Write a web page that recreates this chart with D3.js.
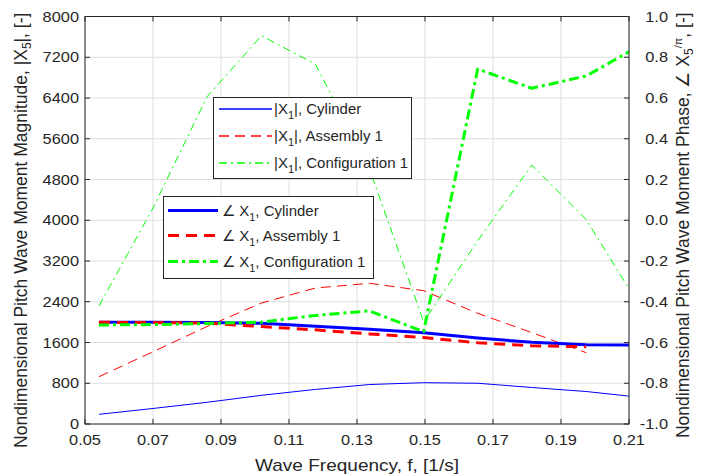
<!DOCTYPE html>
<html><head><meta charset="utf-8">
<script src="https://cdn.jsdelivr.net/npm/d3@7/dist/d3.min.js"></script>
<style>body{margin:0;background:#fff}svg{display:block}text{font-family:"Liberation Sans",Arial,sans-serif;fill:#262626}</style>
</head><body><svg id="c" width="703" height="476"></svg>
<script>
const freq   = [0.0541, 0.0700, 0.0859, 0.1019, 0.1178, 0.1337, 0.1496, 0.1655, 0.1814, 0.1974, 0.2133];
const magCyl = [190, 305, 426, 563, 679, 775, 811, 800, 717, 638, 524];
const magAsm = [928, 1419, 1914, 2375, 2670, 2762, 2617, 2173, 1795, 1400];
const magCfg = [2316, 4240, 6425, 7623, 7061, 5000, 2008, 3598, 5084, 4014, 2300];
const phCyl  = [-0.501, -0.501, -0.502, -0.506, -0.520, -0.535, -0.552, -0.578, -0.599, -0.611, -0.612];
const phAsm  = [-0.501, -0.502, -0.505, -0.522, -0.538, -0.558, -0.576, -0.601, -0.616, -0.621];
const phCfg  = [-0.514, -0.512, -0.507, -0.500, -0.467, -0.445, -0.547, 0.742, 0.648, 0.708, 0.858];
const xTicks = [0.05, 0.07, 0.09, 0.11, 0.13, 0.15, 0.17, 0.19, 0.21];
const yLTicks = [0, 800, 1600, 2400, 3200, 4000, 4800, 5600, 6400, 7200, 8000];
const yRTicks = [-1.0, -0.8, -0.6, -0.4, -0.2, 0.0, 0.2, 0.4, 0.6, 0.8, 1.0];

const L = 85, R = 629, T = 16.5, B = 424;
const svg = d3.select("#c");
const x = d3.scaleLinear().domain([0.05, 0.21]).range([L, R]);
const yL = d3.scaleLinear().domain([0, 8000]).range([B, T]);
const yR = d3.scaleLinear().domain([-1, 1]).range([B, T]);
const axc = "#262626";
const SX = 1.17;

// grid
const g = svg.append("g");
g.selectAll(".gx").data(xTicks).join("line").attr("x1", d => x(d)).attr("x2", d => x(d))
  .attr("y1", T).attr("y2", B).attr("stroke", "#dedede").attr("stroke-width", 1);
g.selectAll(".gy").data(yLTicks).join("line").attr("y1", d => yL(d)).attr("y2", d => yL(d))
  .attr("x1", L).attr("x2", R).attr("stroke", "#dedede").attr("stroke-width", 1);

svg.append("defs").append("clipPath").attr("id", "clip").append("rect")
  .attr("x", L).attr("y", T).attr("width", R - L).attr("height", B - T);
const plot = svg.append("g").attr("clip-path", "url(#clip)");

function draw(vals, yS, color, w, dash) {
  const line = d3.line().x((d, i) => x(freq[i])).y(d => yS(d));
  plot.append("path").datum(vals).attr("d", line).attr("fill", "none")
    .style("stroke", color).attr("stroke-width", w).attr("stroke-dasharray", dash)
    .attr("stroke-linejoin", "round");
}
const series = [
  {v: magCyl, s: yL, c: "#0000ff", w: 1, d: null, lab: "Cylinder", ph: false},
  {v: magAsm, s: yL, c: "#ff0000", w: 1, d: "10,6", lab: "Assembly 1", ph: false},
  {v: magCfg, s: yL, c: "#00ff00", w: 1, d: "8,4,2,4", lab: "Configuration 1", ph: false},
  {v: phCyl, s: yR, c: "#0000ff", w: 3, d: null, lab: "Cylinder", ph: true},
  {v: phAsm, s: yR, c: "#ff0000", w: 3, d: "11,7", lab: "Assembly 1", ph: true},
  {v: phCfg, s: yR, c: "#00ff00", w: 3, d: "10,4,3,4", lab: "Configuration 1", ph: true}
];
series.forEach(s => draw(s.v, s.s, s.c, s.w, s.d));

// axes box
const ax = svg.append("g");
ax.append("rect").attr("x", L).attr("y", T).attr("width", R - L).attr("height", B - T)
  .attr("fill", "none").attr("stroke", axc).attr("stroke-width", 1);
const tl = 5;
ax.selectAll(".tx").data(xTicks).join("line").attr("x1", d => x(d)).attr("x2", d => x(d))
  .attr("y1", B).attr("y2", B - tl).attr("stroke", axc);
ax.selectAll(".txt").data(xTicks).join("line").attr("x1", d => x(d)).attr("x2", d => x(d))
  .attr("y1", T).attr("y2", T + tl).attr("stroke", axc);
ax.selectAll(".tyl").data(yLTicks).join("line").attr("y1", d => yL(d)).attr("y2", d => yL(d))
  .attr("x1", L).attr("x2", L + tl).attr("stroke", axc);
ax.selectAll(".tyr").data(yRTicks).join("line").attr("y1", d => yR(d)).attr("y2", d => yR(d))
  .attr("x1", R).attr("x2", R - tl).attr("stroke", axc);

const fs = 14;
ax.selectAll(".lx").data(xTicks).join("text")
  .attr("transform", d => `translate(${x(d)},${B + 21}) scale(${SX},1)`)
  .attr("text-anchor", "middle").attr("font-size", fs).text(d => d.toFixed(2));
ax.selectAll(".lyl").data(yLTicks).join("text")
  .attr("transform", d => `translate(${L - 6},${yL(d) + 5}) scale(${SX},1)`)
  .attr("text-anchor", "end").attr("font-size", fs).text(d => d);
ax.selectAll(".lyr").data(yRTicks).join("text")
  .attr("transform", d => `translate(668,${yR(d) + 5}) scale(${SX},1)`)
  .attr("text-anchor", "end").attr("font-size", fs).text(d => d.toFixed(1));

// axis titles
const tfs = 17.5;
svg.append("text").attr("transform", `translate(${(L + R) / 2},471) scale(1.12,1)`)
  .attr("text-anchor", "middle").attr("font-size", 17).text("Wave Frequency, f, [1/s]");
const tL = svg.append("text").attr("transform", `translate(27,${(T + B) / 2 + 10}) rotate(-90)`)
  .attr("text-anchor", "middle").attr("font-size", tfs);
tL.append("tspan").text("Nondimensional Pitch Wave Moment Magnitude, |X");
tL.append("tspan").attr("font-size", 12).attr("dy", 4).text("5");
tL.append("tspan").attr("dy", -4).text("|, [-]");
const tR = svg.append("text").attr("transform", `translate(689,${(T + B) / 2 + 5}) rotate(-90)`)
  .attr("text-anchor", "middle").attr("font-size", tfs);
tR.append("tspan").text("Nondimensional Pitch Wave Moment Phase,  \u2220 X");
tR.append("tspan").attr("font-size", 12).attr("dy", 4).text("5");
tR.append("tspan").attr("font-size", 11).attr("dy", -11).text("/\u03c0");
tR.append("tspan").attr("dy", 7).text(", [-]");

// legends
function legend(x0, y0, w, h, rows, items, sx1, sx2, tx, ph) {
  const lg = svg.append("g");
  lg.append("rect").attr("x", x0).attr("y", y0).attr("width", w).attr("height", h)
    .style("fill", "#ffffff").style("stroke", axc).attr("stroke-width", 1);
  items.forEach((s, i) => {
    const yy = rows[i];
    const line = d3.line()([[sx1, yy], [sx2, yy]]);
    lg.append("path").attr("d", line).style("fill", "none")
      .style("stroke", s.c).style("stroke-width", (s.w === 1 ? 1.3 : s.w) + "px")
      .style("stroke-dasharray", s.d ? s.d : "none");
    const t = lg.append("text").attr("x", tx).attr("y", yy + 5).attr("font-size", 15);
    t.append("tspan").text(ph ? "\u2220 X" : "|X");
    t.append("tspan").attr("font-size", 11).attr("dy", 5).text("1");
    t.append("tspan").attr("dy", -5).text((ph ? ", " : "|, ") + s.lab);
  });
}
legend(213.5, 97.5, 198, 81, [109, 136, 163], series.slice(0, 3), 219, 272, 274, false);
legend(163.5, 196.5, 210, 82, [210.5, 235.5, 261.5], series.slice(3), 168, 218, 222, true);
</script></body></html>
